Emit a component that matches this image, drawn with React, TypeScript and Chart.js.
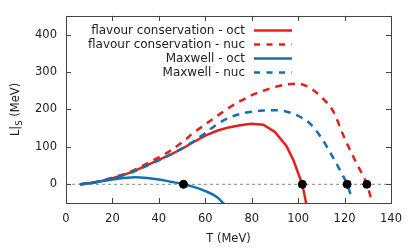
import React, { useEffect, useRef } from 'react';
import { Chart, registerables } from 'chart.js';
Chart.register(...registerables);

const SERIES_LABELS = [
  'flavour conservation - oct',
  'flavour conservation - nuc',
  'Maxwell - oct',
  'Maxwell - nuc',
];

const T_FC_OCT = [6, 10, 15, 20, 25, 30, 35, 40, 45, 50, 55, 60, 65, 70, 75, 80, 85, 90, 95, 98, 100, 101.8, 103.5];
const L_FC_OCT = [0, 3, 8, 16, 25, 37, 51, 65, 79, 95, 113, 130, 143, 152, 158, 162, 159, 140, 102, 64, 30, 0, -52];

const T_FC_NUC = [6, 10, 15, 20, 25, 30, 35, 40, 45, 50, 55, 60, 65, 70, 75, 80, 85, 90, 95, 100, 105, 110, 115, 120, 125, 129.6, 132];
const L_FC_NUC = [0, 3, 9, 18, 27, 40, 56, 72, 90, 112, 138, 160, 182, 204, 222, 238, 250, 260, 267, 269, 258, 233, 196, 123, 58, 0, -52];

const T_MX_OCT = [6, 10, 15, 20, 25, 30, 35, 40, 45, 50, 55, 60, 65, 68];
const L_MX_OCT = [0, 3, 8, 13, 17, 19, 17, 13, 7, 1, -7, -18, -34, -52];

const T_MX_NUC = [6, 10, 15, 20, 25, 30, 35, 40, 45, 50, 55, 60, 65, 70, 75, 80, 85, 90, 95, 100, 105, 110, 115, 118, 121.1, 123];
const L_MX_NUC = [0, 3, 8, 16, 25, 36, 50, 64, 79, 96, 115, 137, 160, 177, 188, 194, 197, 198, 194, 183, 163, 124, 72, 38, 0, -35];

const ZERO_T = [50.6, 101.8, 121.1, 129.6];
const ZERO_L = [0, 0, 0, 0];

const X_TICKS = [0, 20, 40, 60, 80, 100, 120, 140];
const Y_TICKS = [0, 100, 200, 300, 400];

const RED = 'rgb(228,32,28)';
const BLUE = 'rgb(14,113,182)';
const FONT = '"DejaVu Sans", sans-serif';

const pts = (xs: number[], ys: number[]) => xs.map((x, i) => ({ x, y: ys[i] }));

const frame = {
  id: 'frame',
  afterDatasetsDraw(chart: any) {
    const { ctx, chartArea: a, scales } = chart;
    const xs = scales.x, ys = scales.y;
    ctx.save();
    ctx.strokeStyle = '#444';
    ctx.lineWidth = 1;
    ctx.strokeRect(Math.round(a.left) + 0.5, Math.round(a.top) + 0.5, Math.round(a.right - a.left), Math.round(a.bottom - a.top));
    const L = 5;
    ctx.beginPath();
    for (const t of X_TICKS) {
      const px = Math.round(xs.getPixelForValue(t)) + 0.5;
      ctx.moveTo(px, a.bottom); ctx.lineTo(px, a.bottom - L);
      ctx.moveTo(px, a.top); ctx.lineTo(px, a.top + L);
    }
    for (const v of Y_TICKS) {
      const py = Math.round(ys.getPixelForValue(v)) + 0.5;
      ctx.moveTo(a.left, py); ctx.lineTo(a.left + L, py);
      ctx.moveTo(a.right, py); ctx.lineTo(a.right - L, py);
    }
    ctx.stroke();

    // legend
    ctx.font = `12px ${FONT}`;
    ctx.textAlign = 'right';
    ctx.textBaseline = 'middle';
    const styles = [
      { c: RED, d: [] as number[] },
      { c: RED, d: [6, 6.5] },
      { c: BLUE, d: [] as number[] },
      { c: BLUE, d: [6, 6.5] },
    ];
    SERIES_LABELS.forEach((lab, i) => {
      const y = 30 + 14 * i;
      ctx.fillStyle = '#222';
      ctx.fillText(lab, 245, y + 1);
      ctx.strokeStyle = styles[i].c;
      ctx.lineWidth = 2.5;
      ctx.setLineDash(styles[i].d);
      ctx.beginPath();
      ctx.moveTo(254, y + 0.5);
      ctx.lineTo(292, y + 0.5);
      ctx.stroke();
      ctx.setLineDash([]);
    });

    // axis titles
    ctx.fillStyle = '#222';
    ctx.textAlign = 'center';
    ctx.font = `11.5px ${FONT}`;
    ctx.fillText('T (MeV)', (a.left + a.right) / 2, 239);

    ctx.translate(16, (a.top + a.bottom) / 2);
    ctx.rotate(-Math.PI / 2);
    const p1 = 'L|', p2 = 'S', p3 = ' (MeV)';
    ctx.font = `11.5px ${FONT}`;
    const w1 = ctx.measureText(p1).width;
    const w3 = ctx.measureText(p3).width;
    ctx.font = `8.5px ${FONT}`;
    const w2 = ctx.measureText(p2).width;
    let x0 = -(w1 + w2 + w3) / 2;
    ctx.textAlign = 'left';
    ctx.font = `11.5px ${FONT}`;
    ctx.fillText(p1, x0, 0);
    ctx.font = `8.5px ${FONT}`;
    ctx.fillText(p2, x0 + w1, 4);
    ctx.font = `11.5px ${FONT}`;
    ctx.fillText(p3, x0 + w1 + w2, 0);
    ctx.restore();
  },
};

export default function App() {
  const ref = useRef<HTMLCanvasElement>(null);
  useEffect(() => {
    const chart = new Chart(ref.current as HTMLCanvasElement, {
      type: 'line',
      data: {
        datasets: [
          { label: 'zeros', data: pts(ZERO_T, ZERO_L), showLine: false, pointRadius: 4, pointBackgroundColor: '#000', pointBorderColor: '#000', borderColor: '#000', order: 0 } as any,
          { label: SERIES_LABELS[3], data: pts(T_MX_NUC, L_MX_NUC), borderColor: BLUE, borderWidth: 2.5, borderDash: [7, 6], pointRadius: 0, cubicInterpolationMode: 'monotone', order: 1 },
          { label: SERIES_LABELS[2], data: pts(T_MX_OCT, L_MX_OCT), borderColor: BLUE, borderWidth: 2.5, pointRadius: 0, cubicInterpolationMode: 'monotone', order: 2 },
          { label: SERIES_LABELS[1], data: pts(T_FC_NUC, L_FC_NUC), borderColor: RED, borderWidth: 2.5, borderDash: [7, 6], pointRadius: 0, cubicInterpolationMode: 'monotone', order: 3 },
          { label: SERIES_LABELS[0], data: pts(T_FC_OCT, L_FC_OCT), borderColor: RED, borderWidth: 2.5, pointRadius: 0, tension: 0, order: 4 },
          { label: 'zero', data: [{ x: X_TICKS[0], y: 0 }, { x: X_TICKS[X_TICKS.length - 1], y: 0 }], borderColor: '#888', borderWidth: 1, borderDash: [3, 3], pointRadius: 0, order: 5 },
        ],
      },
      options: {
        responsive: false,
        animation: false,
        layout: { padding: { top: 15, right: 24, left: 0, bottom: 0 } },
        plugins: { legend: { display: false }, tooltip: { enabled: false } },
        scales: {
          x: {
            type: 'linear', min: 0, max: 140,
            grid: { display: false, drawTicks: false },
            border: { display: false },
            afterBuildTicks: (s: any) => { s.ticks = X_TICKS.map((v) => ({ value: v })); },
            afterFit: (s: any) => { s.height = 46; },
            ticks: { padding: 9, color: '#222', font: { family: FONT, size: 11.5 }, maxRotation: 0 },
          },
          y: {
            type: 'linear', min: -50, max: 450,
            grid: { display: false, drawTicks: false },
            border: { display: false },
            afterBuildTicks: (s: any) => { s.ticks = Y_TICKS.map((v) => ({ value: v })); },
            afterFit: (s: any) => { s.width = 66; },
            ticks: { padding: 9, color: '#222', font: { family: FONT, size: 11.5 } },
          },
        },
      },
      plugins: [frame],
    });
    return () => chart.destroy();
  }, []);
  return (
    <canvas ref={ref} width={415} height={249} style={{ position: 'fixed', left: 0, top: 0, width: 415, height: 249 }} />
  );
}
